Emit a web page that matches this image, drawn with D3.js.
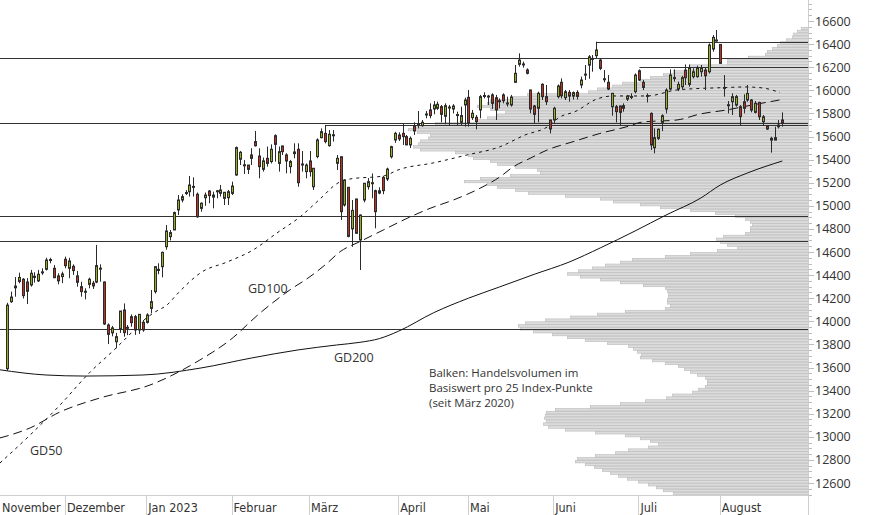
<!DOCTYPE html>
<html><head><meta charset="utf-8">
<script src="https://cdn.jsdelivr.net/npm/d3@7"></script>
<style>
html,body{margin:0;padding:0;background:#fff;}
svg{display:block;}
</style></head>
<body>
<svg id="c" width="874" height="515"></svg>
<script>
// ---- DATA (DAX daily candles, Nov 10 2022 - Aug 23 2023) ----
const opens = [13590,14170,14290,14345,14364,14340,14315,14390,14350,14420,14450,14528,14459,14393,14387,14537,14459,14476,14393,14300,
14252,14320,14330,14340,14455,14340,13968,13900,13823,13933,14098,13945,14040,14040,13925,13991,13991,14112,14257,14450,
14473,14646,14733,14791,14964,15050,15110,15122,15160,15100,14978,15070,15128,15075,15125,15108,15065,15070,15108,15267,
15403,15355,15353,15440,15556,15431,15316,15411,15383,15607,15367,15518,15440,15339,15452,15489,15355,15296,15388,15165,
15426,15590,15627,15521,15615,15368,15425,15007,15160,14800,15059,14704,15050,15166,15195,15131,15110,15246,15232,15425,
15570,15613,15627,15599,15527,15694,15700,15694,15790,15830,15838,15844,15859,15775,15850,15838,15790,15723,15873,15939,
15763,15766,15830,15950,15945,15960,15936,15905,15960,15890,15873,16069,16225,16228,16176,16003,15864,15844,16052,15945,
15743,15743,15945,16069,15936,15982,15950,15982,16046,16135,16218,16270,16300,16262,16100,16069,15858,15858,15864,15867,
15924,15942,15988,16169,16069,15955,15800,15503,15584,15722,15838,16011,16110,16011,16031,16175,16051,16118,16118,16161,
16175,16161,16357,16430,16397,16025,15870,15901,15872,15858,15901,15916,15916,15809,15895,15728,15693,15584,15569,15685,15743];
const highs = [14160,14257,14383,14421,14374,14374,14445,14425,14445,14459,14550,14550,14487,14416,14430,14560,14550,14493,14436,14343,
14286,14378,14350,14661,14493,14345,13982,13960,13900,14089,14155,13968,14060,14055,14060,14011,14070,14271,14479,14502,
14603,14834,14790,14950,15093,15100,15136,15258,15246,15115,15030,15115,15137,15122,15137,15180,15117,15137,15209,15513,
15475,15396,15353,15498,15648,15498,15418,15513,15532,15619,15513,15521,15455,15397,15541,15541,15475,15367,15475,15325,
15584,15670,15700,15656,15656,15440,15425,15230,15160,15050,15059,14925,15195,15240,15280,15140,15160,15260,15330,15520,
15640,15636,15714,15613,15600,15723,15821,15743,15821,15887,15907,15902,15873,15887,15873,15880,15815,15858,15936,16003,
15830,15786,15960,15983,15960,15974,15960,15930,15974,15945,15960,16219,16320,16248,16190,16003,15873,15988,16060,16046,
15743,15858,16051,16103,16003,16003,15990,16000,16118,16219,16305,16305,16421,16276,16175,16132,15974,15873,15867,15887,
15960,15974,16146,16181,16089,15974,15809,15670,15670,15792,16017,16181,16181,16075,16126,16224,16224,16190,16213,16219,
16196,16406,16478,16522,16397,16132,15907,15974,15960,15872,15965,16046,15924,15907,15901,15786,15699,15598,15685,15743,15809];
const lows = [13570,14160,14213,14329,14197,14150,14300,14335,14340,14402,14440,14502,14373,14320,14330,14459,14373,14402,14300,14213,
14190,14286,14280,14330,14343,13968,13803,13870,13766,13900,13867,13880,13953,13882,13890,13910,13980,14069,14240,14407,
14380,14620,14700,14791,14920,15030,15093,15080,15080,14896,14949,15000,15022,14978,15065,15080,15007,15007,15093,15260,
15353,15275,15275,15353,15513,15238,15296,15339,15367,15383,15296,15440,15281,15281,15411,15165,15296,15238,15253,15137,
15411,15584,15541,15512,15556,15310,14877,14993,14727,14645,14762,14444,15030,15140,15065,14805,15100,15100,15215,15410,
15545,15561,15527,15527,15500,15613,15671,15685,15758,15758,15792,15830,15723,15706,15694,15800,15694,15700,15685,15685,
15743,15662,15758,15930,15873,15838,15743,15844,15887,15859,15859,16069,16205,16196,16138,15801,15714,15723,15916,15873,
15627,15714,15930,15930,15916,15901,15920,15920,16017,16089,16100,16161,16276,16175,16069,16002,15780,15722,15699,15815,
15907,15924,15974,16080,16002,15895,15483,15454,15570,15647,15800,16002,16075,15993,16011,16046,16031,16103,16109,16118,
16002,16146,16334,16421,16233,15945,15800,15786,15858,15699,15800,15901,15809,15800,15743,15699,15656,15460,15569,15670,15685];
const closes = [14140,14210,14305,14380,14222,14260,14416,14380,14407,14428,14531,14535,14378,14350,14410,14482,14522,14439,14338,14257,
14260,14364,14306,14482,14460,13977,13887,13943,13867,14089,13902,13948,13988,13925,14060,13925,14055,14170,14473,14440,
14597,14782,14768,14941,15050,15079,15115,15180,15168,14905,15022,15093,15088,15093,15130,15137,15117,15122,15171,15504,
15463,15350,15316,15411,15520,15339,15389,15367,15489,15532,15469,15469,15388,15383,15466,15200,15362,15353,15296,15325,
15570,15642,15556,15619,15610,15411,14949,15223,14735,14960,14762,14920,15195,15209,15200,14949,15130,15131,15318,15512,
15627,15579,15599,15527,15584,15648,15706,15723,15795,15781,15873,15879,15792,15867,15855,15864,15786,15781,15916,15714,
15801,15729,15945,15955,15950,15887,15830,15910,15910,15887,15942,16147,16262,16225,16147,15838,15792,15974,15945,15902,
15665,15844,16037,15953,15988,15950,15980,15947,16089,16140,16290,16276,16349,16190,16097,16011,15974,15815,15809,15844,
15950,15947,16132,16089,16025,15950,15526,15590,15662,15780,16002,16132,16109,16051,16109,16109,16190,16161,16190,16196,
16126,16392,16458,16435,16233,16020,15875,15945,15945,15772,15844,15973,15829,15887,15771,15771,15665,15569,15590,15699,15714];

// moving averages: [trading-day index, value]
const gd50 = [[-1.9,12773],[5.9,13016],[13.6,13275],[21.4,13561],[27.8,13760],[32.2,13907],[35,14003],[38.1,14080],[41.2,14141],[44.1,14245],
[50.2,14427],[56.7,14513],[63.4,14617],[69.6,14765],[75.5,14903],[80.7,15059],[85.3,15197],[88.4,15232],[97,15258],[101.3,15316],
[109.9,15371],[118.6,15440],[127.2,15512],[133.6,15613],[139.3,15682],[142.6,15769],[146.5,15815],[152.2,15925],[156.3,15951],
[165.1,15951],[172.8,16003],[184.7,16023],[190.4,16029],[195,16020],[199.4,15980]];
const gd100 = [[-1.9,12990],[5.9,13077],[13.6,13215],[23.9,13336],[36.8,13448],[49.7,13665],[57.5,13838],[65.2,14071],[72.9,14271],
[78.1,14386],[82.5,14502],[85.9,14603],[91,14690],[97,14790],[103.2,14892],[109.1,14978],[115.1,15050],[122,15152],[127.2,15252],
[130.5,15336],[134.9,15411],[139.3,15483],[146,15555],[152.9,15626],[159.9,15685],[164,15726],[172.8,15743],[178.8,15795],
[185.7,15830],[190.9,15864],[199.9,15920]];
const gd200 = [[-1.9,13580],[10,13535],[20,13526],[35,13535],[50,13596],[63,13682],[75,13752],[85,13795],[91,13818],[96,13850],[101,13915],
[110,14074],[119,14200],[127,14297],[136,14407],[145,14513],[153,14635],[162,14782],[170,14920],[179,15068],[184,15180],[191,15284],[200,15388]];

// horizontal lines
const levelLines = [16277, 15720, 14912, 14695, 13931];
const markStart = [82, 152, 163];
const markLevel = [15700, 16416, 16198];

// volume profile (per 25 index points), from 12500 upward
const profileVolume = [135,145,152,160,170,181,190,198,206,214,223,233,231,213,193,180,160,150,158,168,
183,213,243,260,265,262,264,263,262,253,218,188,163,142,136,116,110,103,101,101,
103,111,118,124,130,143,156,168,167,171,175,180,201,223,241,256,275,288,290,283,
263,238,211,183,143,138,141,141,140,140,141,143,165,188,208,228,241,230,216,203,
188,176,143,118,91,71,81,88,92,85,63,58,58,56,58,63,73,93,118,148,
168,195,208,243,280,293,311,321,344,328,298,268,271,293,311,318,335,340,353,388,
395,390,388,380,378,391,400,393,373,331,321,311,303,318,331,321,318,295,281,220,
211,196,186,168,158,145,135,118,118,81,81,60,43,41,36,31,28,22,16,15,11,7];
const profileStart = 12500, profileStep = 25;

// axes
const yTicks = [12600,12800,13000,13200,13400,13600,13800,14000,14200,14400,14600,14800,15000,15200,15400,15600,15800,16000,16200,16400,16600];
const monthNames = ["November","Dezember","Jan 2023","Februar","März","April","Mai","Juni","Juli","August"];
const monthStartIdx = [-7,15,36,58,78,101,119,141,163,184];

// ---- DRAW ----
const svg = d3.select("#c");
const W = 874, H = 515, plotR = 808, axisY = 495;
const x = d3.scaleLinear().domain([0,200]).range([7.3,782.3]);
const y = d3.scaleLinear().domain([12600,16600]).range([483,21]);
const vx = d3.scaleLinear().domain([0,400]).range([plotR,plotR-400]);

const plot = svg.append("g");
svg.append("defs").append("clipPath").attr("id","pc").append("rect").attr("x",0).attr("y",0).attr("width",plotR).attr("height",axisY);

// volume profile
const prof = profileVolume.map((v,k)=>({lo: profileStart + k*profileStep, v}));
plot.append("g").selectAll("rect").data(prof).join("rect")
  .attr("x", d=>vx(d.v)+0.5)
  .attr("y", d=>y(d.lo+profileStep)+0.5)
  .attr("width", d=>plotR - vx(d.v))
  .attr("height", d=>y(d.lo)-y(d.lo+profileStep)-0.4)
  .attr("fill","#dcdcdc").attr("stroke","#b9b9b9").attr("stroke-width",0.6);

// full-width level lines
plot.append("g").selectAll("line").data(levelLines).join("line")
  .attr("x1",0).attr("x2",plotR)
  .attr("y1",d=>Math.round(y(d))+0.5).attr("y2",d=>Math.round(y(d))+0.5)
  .attr("stroke","#333").attr("stroke-width",1.1);
// marks starting at candle highs
plot.append("g").selectAll("line").data(markStart.map((s,k)=>({s,l:markLevel[k]}))).join("line")
  .attr("x1",d=>Math.round(x(d.s))+0.5).attr("x2",plotR)
  .attr("y1",d=>Math.round(y(d.l))+0.5).attr("y2",d=>Math.round(y(d.l))+0.5)
  .attr("stroke","#333").attr("stroke-width",1.1);

// moving averages
const lineGen = d3.line().x(d=>x(d[0])).y(d=>y(d[1])).curve(d3.curveMonotoneX);
const gdG = plot.append("g").attr("clip-path","url(#pc)");
gdG.append("path").attr("d",lineGen(gd200)).attr("fill","none").attr("stroke","#111").attr("stroke-width",1);
gdG.append("path").attr("d",lineGen(gd100)).attr("fill","none").attr("stroke","#111").attr("stroke-width",1).attr("stroke-dasharray","9,5");
gdG.append("path").attr("d",lineGen(gd50)).attr("fill","none").attr("stroke","#111").attr("stroke-width",1).attr("stroke-dasharray","3,4");

// candles
const candles = opens.map((o,i)=>({i,o,h:highs[i],l:lows[i],c:closes[i]}));
const cg = plot.append("g").selectAll("g").data(candles).join("g");
cg.append("line")
  .attr("x1",d=>Math.round(x(d.i))+0.5).attr("x2",d=>Math.round(x(d.i))+0.5)
  .attr("y1",d=>y(d.h)).attr("y2",d=>y(d.l))
  .attr("stroke","#2b2b2b").attr("stroke-width",1);
cg.append("rect")
  .attr("x",d=>Math.round(x(d.i))-0.5)
  .attr("y",d=>Math.min(y(d.o),y(d.c)))
  .attr("width",2)
  .attr("height",d=>Math.max(1,Math.abs(y(d.o)-y(d.c))))
  .attr("fill",d=>d.c>=d.o?"#94b21c":"#c0301f")
  .attr("stroke","#2b2b2b").attr("stroke-width",1);

// axes
svg.append("line").attr("x1",0).attr("x2",plotR+0.5).attr("y1",axisY+0.5).attr("y2",axisY+0.5).attr("stroke","#cfcfcf");
svg.append("line").attr("x1",plotR+0.5).attr("x2",plotR+0.5).attr("y1",0).attr("y2",H).attr("stroke","#cfcfcf");
const minorTicks = d3.range(12500,16751,50);
svg.append("g").selectAll("line").data(minorTicks).join("line")
  .attr("x1",plotR+0.5).attr("x2",d=>plotR+ (d%200===0?6:4))
  .attr("y1",d=>Math.round(y(d))+0.5).attr("y2",d=>Math.round(y(d))+0.5)
  .attr("stroke","#bdbdbd");
svg.append("g").selectAll("text").data(yTicks).join("text")
  .attr("x",815).attr("y",d=>y(d)+4.5)
  .attr("font-family","'Open Sans', sans-serif").attr("font-size",12.5).attr("fill","#333")
  .text(d=>d);

const months = monthNames.map((m,k)=>({m, t: x(monthStartIdx[k])-0.5}));
svg.append("g").selectAll("line").data(months.filter(d=>d.t>0)).join("line")
  .attr("x1",d=>Math.round(d.t)+0.5).attr("x2",d=>Math.round(d.t)+0.5)
  .attr("y1",axisY).attr("y2",H).attr("stroke","#cfcfcf");
svg.append("g").selectAll("text").data(months).join("text")
  .attr("x",d=>Math.max(2,d.t+2)).attr("y",512)
  .attr("font-family","'Liberation Sans Narrow','DejaVu Sans Condensed',sans-serif").attr("font-size",12.5).attr("fill","#333")
  .text(d=>d.m);

// labels
const lab = svg.append("g").attr("font-family","'Open Sans', sans-serif").attr("fill","#333");
lab.append("text").attr("x",248).attr("y",293).attr("font-size",12.5).text("GD100");
lab.append("text").attr("x",334).attr("y",362).attr("font-size",12.5).text("GD200");
lab.append("text").attr("x",30).attr("y",455).attr("font-size",12.5).text("GD50");
const note = ["Balken: Handelsvolumen im","Basiswert pro 25 Index-Punkte","(seit März 2020)"];
lab.append("g").selectAll("text").data(note).join("text")
  .attr("x",429).attr("y",(d,k)=>377+k*15).attr("font-size",11.5).text(d=>d);
</script>
</body></html>
